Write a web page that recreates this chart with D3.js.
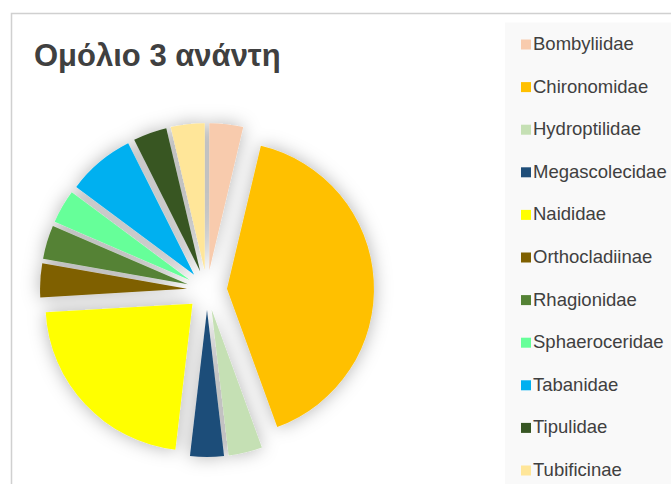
<!DOCTYPE html>
<html>
<head>
<meta charset="utf-8">
<script src="https://cdn.jsdelivr.net/npm/d3@7"></script>
<style>
  body { margin: 0; background: #fff; }
  svg { display: block; }
</style>
</head>
<body>
<div id="chart"></div>
<script>
const title = "Ομόλιο 3 ανάντη";
const families = ["Bombyliidae", "Chironomidae", "Hydroptilidae", "Megascolecidae", "Naididae",
  "Orthocladiinae", "Rhagionidae", "Sphaeroceridae", "Tabanidae", "Tipulidae", "Tubificinae"];
const counts = [1, 11, 1, 1, 6, 1, 1, 1, 2, 1, 1];
const colors = ["#f8cbad", "#ffc000", "#c5e0b4", "#1f4e79", "#ffff00",
  "#7f6000", "#548235", "#66ff99", "#00b0f0", "#375623", "#ffe699"];

const W = 671, H = 484;
const svg = d3.select("#chart").append("svg")
  .attr("width", W)
  .attr("height", H);

const defs = svg.append("defs");
const f = defs.append("filter").attr("id", "glow")
  .attr("x", "-30%").attr("y", "-30%").attr("width", "160%").attr("height", "160%");
f.append("feDropShadow")
  .attr("dx", 0).attr("dy", 0)
  .attr("stdDeviation", 9)
  .attr("flood-color", "#000")
  .attr("flood-opacity", 0.3);

// chart frame
svg.append("rect")
  .attr("x", 11.5).attr("y", 13.5)
  .attr("width", W + 20).attr("height", H + 20)
  .attr("fill", "#fff")
  .attr("stroke", "#d0d0d0")
  .attr("stroke-width", 1.5);

// legend background
svg.append("rect")
  .attr("x", 505).attr("y", 22.5)
  .attr("width", W).attr("height", H)
  .attr("fill", "#f9f9f9");

svg.append("text")
  .attr("x", 34)
  .attr("y", 66)
  .style("font-family", "'Liberation Sans', Arial, sans-serif")
  .style("font-size", "31px")
  .style("font-weight", "bold")
  .attr("fill", "#404040")
  .text(title);

const cx = 207, cy = 290, r = 147, explode = 20;

const pie = d3.pie().sort(null).value(d => d);
const arcs = pie(counts);
const arc = d3.arc().innerRadius(0).outerRadius(r);

const g = svg.append("g")
  .attr("transform", `translate(${cx},${cy})`)
  .attr("filter", "url(#glow)");

g.selectAll("path")
  .data(arcs)
  .enter().append("path")
  .attr("d", arc)
  .attr("fill", (d, i) => colors[i])
  .attr("transform", d => {
    const mid = (d.startAngle + d.endAngle) / 2;
    return `translate(${explode * Math.sin(mid)},${-explode * Math.cos(mid)})`;
  });

// legend
const ly = d3.scalePoint().domain(families).range([44.5, 470.5]);

const items = svg.append("g").selectAll("g")
  .data(families)
  .enter().append("g")
  .attr("transform", d => `translate(521,${ly(d)})`);

items.append("rect")
  .attr("x", 0).attr("y", -5)
  .attr("width", 10).attr("height", 10)
  .attr("fill", (d, i) => colors[i]);

items.append("text")
  .attr("x", 12)
  .attr("y", 5.5)
  .style("font-family", "'Liberation Sans', Arial, sans-serif")
  .style("font-size", "18.5px")
  .attr("fill", "#404040")
  .text(d => d);
</script>
</body>
</html>
